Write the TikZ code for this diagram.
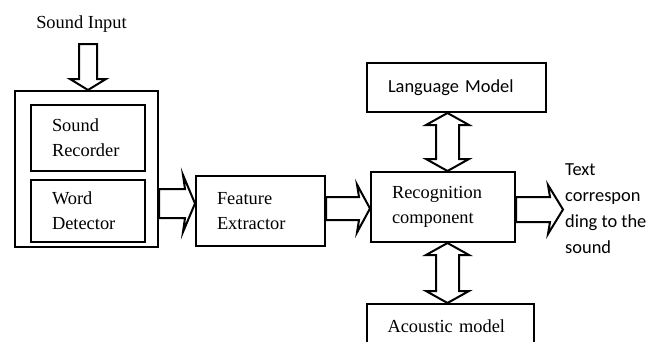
\documentclass[tikz,border=0pt]{standalone}
\usepackage{fontspec}
\setmainfont{Liberation Serif}
\newfontfamily\calfont{Carlito}
\usetikzlibrary{calc}
\tikzset{
  lw/.style={line width=2pt},
  box/.style={draw, lw, rectangle, align=left, inner ysep=0pt, inner xsep=21pt,
    font=\fontsize{18.4}{25}\selectfont},
  hollow/.style={draw, lw, fill=white, line join=miter},
  lbl/.style={inner sep=0pt, font=\fontsize{18.4}{25}\selectfont}
}
% horizontal hollow arrow: tail anchor, tip anchor, y centre, shaft half, head half, head length
\newcommand\harrowR[6]{%
  \draw[hollow] let \p1=(#1), \p2=(#2) in
   (\x1,{-(#3-#4)*1pt}) -- ({\x2-#6pt},{-(#3-#4)*1pt}) -- ({\x2-#6pt-2pt},{-(#3-#5)*1pt})
   -- (\x2,{-#3pt}) -- ({\x2-#6pt-2pt},{-(#3+#5)*1pt}) -- ({\x2-#6pt},{-(#3+#4)*1pt})
   -- (\x1,{-(#3+#4)*1pt}) -- cycle;}
% vertical double hollow arrow: top anchor, bottom anchor, x centre, shaft half, head half, head length
\newcommand\darrowV[6]{%
  \draw[hollow] let \p1=(#1), \p2=(#2) in
   ({#3pt},\y1) -- ({(#3+#5)*1pt},{\y1-#6pt}) -- ({(#3+#4)*1pt},{\y1-#6pt})
   -- ({(#3+#4)*1pt},{\y2+#6pt}) -- ({(#3+#5)*1pt},{\y2+#6pt}) -- ({#3pt},\y2)
   -- ({(#3-#5)*1pt},{\y2+#6pt}) -- ({(#3-#4)*1pt},{\y2+#6pt})
   -- ({(#3-#4)*1pt},{\y1-#6pt}) -- ({(#3-#5)*1pt},{\y1-#6pt}) -- cycle;}
\begin{document}
\begin{tikzpicture}[x=1pt,y=-1pt]
\useasboundingbox (0,0) rectangle (662,341);
\clip (0,0) rectangle (662,341);
\fill[white] (0,0) rectangle (662,341);

% left group
\node[box, minimum width=143pt, minimum height=156pt] (outer) at (86.5,169) {};
\node[box, minimum width=114pt, minimum height=66pt, text width=72pt] (rec) at (88,138) {Sound\\Recorder};
\node[box, minimum width=114pt, minimum height=62pt, text width=72pt] (wd) at (88,211) {Word\\Detector};
\node[lbl] (si) at (81.5,24) {Sound Input};
\coordinate (sitail) at (88,44);

% other boxes
\node[box, minimum width=129pt, minimum height=70pt, text width=87pt] (fe) at (260.5,211) {Feature\\Extractor};
\node[box, minimum width=144pt, minimum height=70pt, text width=102pt] (rc) at (443,207) {Recognition\\component};
\node[box, minimum width=179pt, minimum height=49pt, text width=137pt, font=\calfont\fontsize{18.4}{25}\selectfont] (lm) at (456.5,87.5) {Language Model};
\node[box, minimum width=167pt, minimum height=44pt, text width=126pt, inner xsep=20pt] (am) at (450.5,326) {Acoustic model};

% output text
\node[lbl, anchor=west, align=left, font=\calfont\fontsize{18.4}{26}\selectfont] (out) at (565,209) {Text\\correspon\\ding to the\\sound};
\coordinate (outtip) at (563,209.5);

% sound input arrow (down)
\draw[hollow] let \p1=(sitail), \p2=(outer.north) in
  (79,\y1) -- (97,\y1) -- (97,79) -- (106,79) -- (88,\y2) -- (70,79) -- (79,79) -- cycle;

% horizontal arrows
\harrowR{outer.east}{fe.west}{203.5}{14.5}{28.5}{10}
\harrowR{fe.east}{rc.west}{208.5}{11.5}{24}{11}
\harrowR{rc.east}{outtip}{209.5}{12.5}{24.5}{13}

% vertical double arrows
\darrowV{lm.south}{rc.north}{447.5}{11.5}{21.5}{12}
\darrowV{rc.south}{am.north}{447.5}{11.5}{21.5}{12}
\end{tikzpicture}
\end{document}
